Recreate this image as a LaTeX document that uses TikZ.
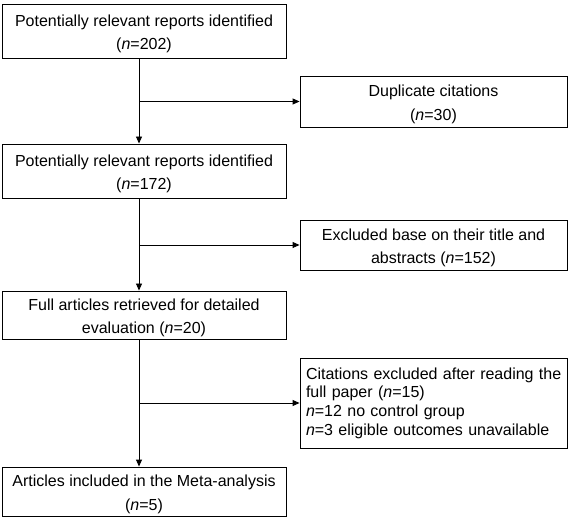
\documentclass[tikz,border=0pt]{standalone}
\usepackage{fontspec}
\setmainfont{Liberation Sans}
\usetikzlibrary{arrows.meta}
\newcommand{\topstrutx}{\rule{0pt}{17pt}}
\begin{document}
\begin{tikzpicture}[x=1pt,y=-1pt,
  box/.style={draw,line width=0.9pt,inner sep=0pt,align=center,font=\fontsize{16}{23.5}\selectfont},
  arr/.style={line width=0.9pt,-{Triangle[length=7pt,width=6pt]}}]
\useasboundingbox (0,0) rectangle (570,518);
\node[box,minimum width=284pt,minimum height=54pt] (b1) at (144,31) {\topstrutx Potentially relevant reports identified\\(\textit{n}=202)};
\node[box,minimum width=284pt,minimum height=54pt] (b2) at (144,171) {\topstrutx Potentially relevant reports identified\\(\textit{n}=172)};
\node[box,minimum width=284pt,minimum height=48pt] (b3) at (144,315) {\topstrutx Full articles retrieved for detailed\\evaluation (\textit{n}=20)};
\node[box,minimum width=284pt,minimum height=49pt] (b4) at (144,491.5) {\topstrutx Articles included in the Meta-analysis\\(\textit{n}=5)};
\node[box,minimum width=267pt,minimum height=51pt] (d) at (433.5,101.5) {\topstrutx Duplicate citations\\(\textit{n}=30)};
\node[box,minimum width=267pt,minimum height=50pt] (e) at (433.5,245) {\topstrutx Excluded base on their title and\\abstracts (\textit{n}=152)};
\node[box,minimum width=267pt,minimum height=90pt,align=left,text width=258pt,inner xsep=4.5pt,font=\fontsize{16}{18.7}\selectfont] (c) at (433.5,403) {\hspace*{1.5pt}Citations excluded after reading the\\\hspace*{1.5pt}full paper (\textit{n}=15)\\\hspace*{1.5pt}\textit{n}=12 no control group\\\hspace*{1.5pt}\textit{n}=3 eligible outcomes unavailable};
\coordinate (s) at (139,0);
\draw[arr] (s |- b1.south) -- (s |- b2.north);
\draw[arr] (s |- b2.south) -- (s |- b3.north);
\draw[arr] (s |- b3.south) -- (s |- b4.north);
\draw[arr] (s |- d.west) -- (d.west);
\draw[arr] (s |- e.west) -- (e.west);
\draw[arr] (s |- c.west) -- (c.west);
\end{tikzpicture}
\end{document}
